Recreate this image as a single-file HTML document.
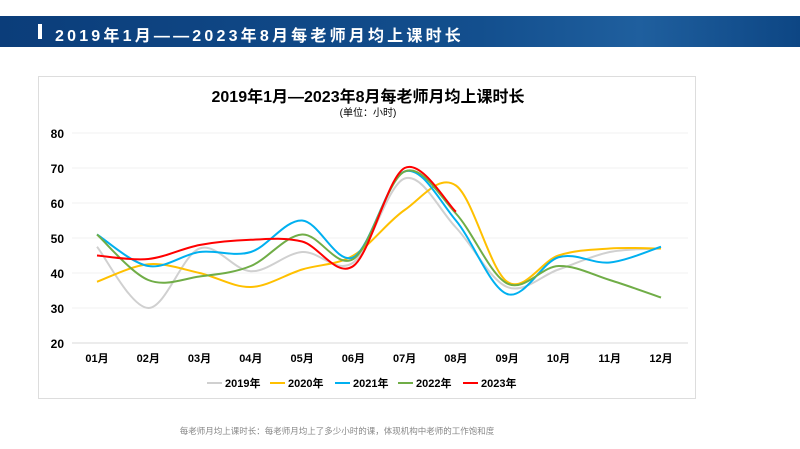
<!DOCTYPE html>
<html><head><meta charset="utf-8"><style>
body{margin:0;width:800px;height:449px;background:#fff;overflow:hidden;font-family:"Liberation Sans","Noto Sans CJK SC",sans-serif;position:relative}
#hdr{position:absolute;left:0;top:16px;width:800px;height:31px;background:linear-gradient(90deg,#0b3d7a,#134f8e 60%,#1f5f9e 80%,#0d4684);}
#hdr span{position:absolute;left:55px;top:6px;color:#fff;font-size:16px;font-weight:bold;letter-spacing:3.2px}
#hdr i{position:absolute;left:38px;top:8px;width:4px;height:15px;background:#fff}
#box{position:absolute;left:38px;top:76px;width:658px;height:323px;border:1px solid #ddd;box-sizing:border-box}
#note{position:absolute;left:0;width:674px;top:425px;text-align:center;font-size:8.5px;color:#888}
</style></head><body>
<div id="hdr"><i></i><span>2019年1月——2023年8月每老师月均上课时长</span></div>
<div id="box"></div>
<svg id="chart" width="800" height="449" style="position:absolute;left:0;top:0">
<text x="368" y="102" text-anchor="middle" font-size="16" font-weight="bold">2019年1月—2023年8月每老师月均上课时长</text>
<text x="368" y="116" text-anchor="middle" font-size="10">(单位：小时)</text>
<g id="axes"></g><g id="lines"></g><g id="legend"></g>
</svg>
<div id="note">每老师月均上课时长：每老师月均上了多少小时的课，体现机构中老师的工作饱和度</div>
<script>
const months=["01月","02月","03月","04月","05月","06月","07月","08月","09月","10月","11月","12月"];
const yTicks=[20,30,40,50,60,70,80];
const seriesNames=["2019年","2020年","2021年","2022年","2023年"];
const seriesColors=["#d0d0d0","#ffc000","#00b0f0","#70ad47","#ff0000"];
const s2019=[47.5,30,47,40.5,46,43,67,53,36,41,46,47];
const s2020=[37.5,42.5,40,36,41,45,58,65,37.5,45,47,47];
const s2021=[51,42,46,46,55,44.5,69,55,34,44.5,43,47.5];
const s2022=[51,38,39,42,51,44,69,57,37,42,38,33];
const s2023=[45,44,48,49.5,49,42,70,57.5];
const allSeries=[s2019,s2020,s2021,s2022,s2023];
const NS="http://www.w3.org/2000/svg";
const X=i=>97+i*(661-97)/11;
const Y=v=>343-(v-20)*3.5;
function mk(t,a,p){const e=document.createElementNS(NS,t);for(const k in a)e.setAttribute(k,a[k]);p.appendChild(e);return e;}
const ax=document.getElementById('axes');
yTicks.forEach(t=>{
 const l=mk('line',{x1:72,x2:688,y1:Y(t),y2:Y(t),stroke:t==20?'#d9d9d9':'#f2f2f2','stroke-width':1},ax);
 
 
 const tx=mk('text',{x:64,y:Y(t)+5,'text-anchor':'end','font-size':12,'font-weight':'bold'},ax);tx.textContent=t;
 
 
});
months.forEach((m,i)=>{
 const tx=mk('text',{x:X(i),y:362,'text-anchor':'middle','font-size':11,'font-weight':'bold'},ax);tx.textContent=m;
 
 
});
const lg=document.getElementById('lines');
allSeries.forEach((s,k)=>{
 const p=s.map((v,i)=>[X(i),Y(v)]);
 let d='M'+p[0][0]+','+p[0][1];
 for(let i=0;i<p.length-1;i++){
  const p0=p[i-1]||p[i],p1=p[i],p2=p[i+1],p3=p[i+2]||p2;
  const c1=[p1[0]+(p2[0]-p0[0])/6,p1[1]+(p2[1]-p0[1])/6];
  const c2=[p2[0]-(p3[0]-p1[0])/6,p2[1]-(p3[1]-p1[1])/6];
  d+=` C${c1} ${c2} ${p2}`;
 }
 const path=mk('path',{d:d,fill:'none',stroke:seriesColors[k],'stroke-width':2},lg);
 
 
});
const leg=document.getElementById('legend');
const lx=[207,270,335,398,463];
seriesNames.forEach((n,k)=>{
 const g=mk('g',{},leg);
 
 
 mk('line',{x1:lx[k],x2:lx[k]+15,y1:383,y2:383,stroke:seriesColors[k],'stroke-width':2},g);
 const t=mk('text',{x:lx[k]+18,y:387,'font-size':11,'font-weight':'bold'},g);t.textContent=n;
});
</script>
</body></html>
